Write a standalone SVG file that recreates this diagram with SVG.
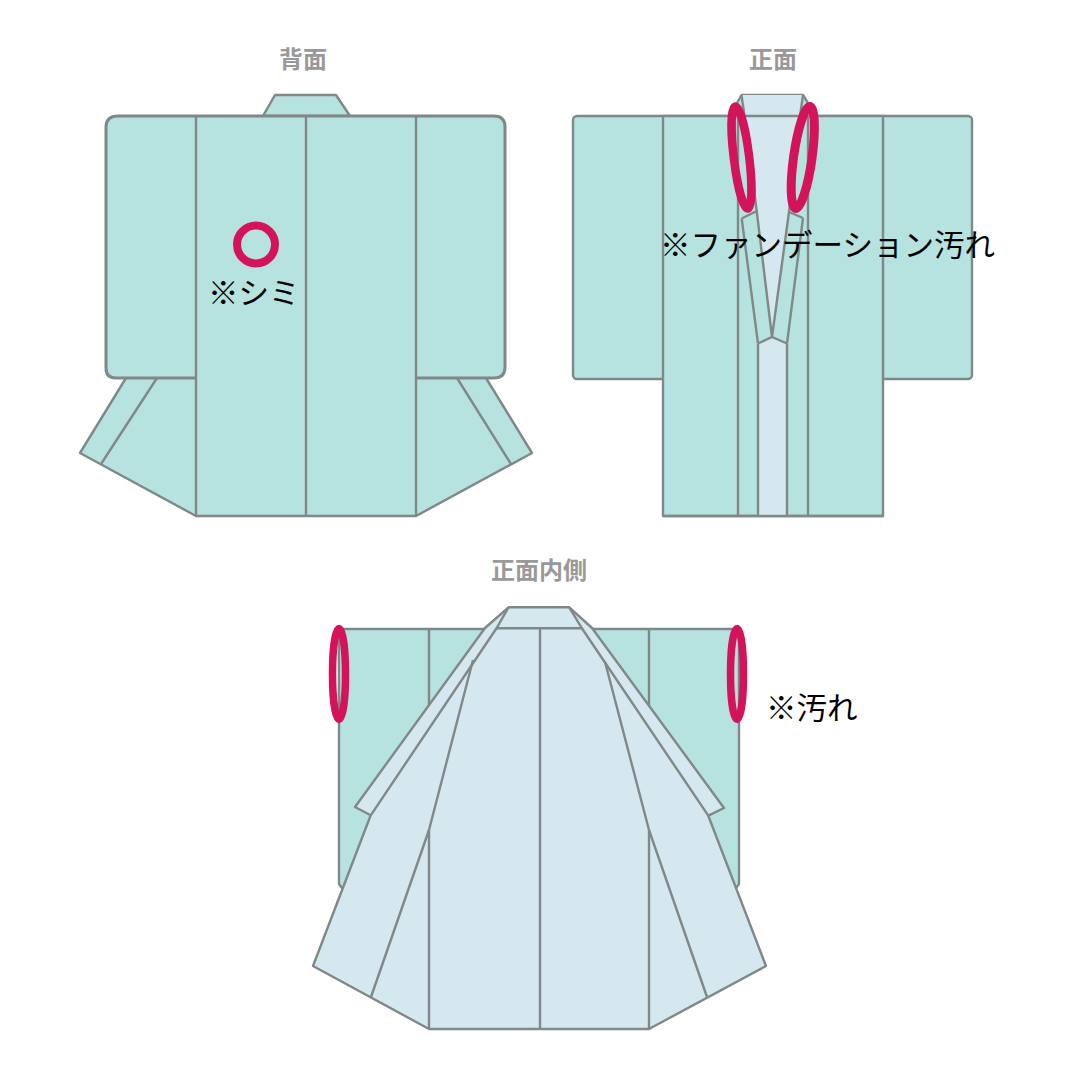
<svg xmlns="http://www.w3.org/2000/svg" width="1080" height="1080" viewBox="0 0 1080 1080">
<style>
.g{fill:#b6e2e0;stroke:#808888;stroke-width:2.400;stroke-linejoin:round}
.b{fill:#d6e8ef;stroke:#808888;stroke-width:2.400;stroke-linejoin:round}
.f{fill:#b6e2e0;stroke:none}
.fb{fill:#d6e8ef;stroke:none}
.l{fill:none;stroke:#808888;stroke-width:2.400;stroke-linejoin:round}
.h{fill:none;stroke:#808888;stroke-width:3;stroke-linejoin:round}
.m{fill:none;stroke:#d4145a;stroke-width:7.500}
.t{font-family:"Noto Sans CJK JP",sans-serif;font-size:24px;font-weight:700;fill:#999;text-anchor:middle}
.n{font-family:"Noto Sans CJK JP",sans-serif;font-size:30.500px;fill:#000}
</style>
<rect width="1080" height="1080" fill="#fff"/>
<text class="t" x="303" y="68">背面</text>
<text class="t" x="773" y="68">正面</text>
<text class="t" x="539" y="579">正面内側</text>

<g id="back">
<!-- collar and skirt gussets sit behind the sleeve block -->
<path class="g" d="M263 116L275 95H336L350 116Z"/>
<path class="f" d="M126 370H486V378L532 453L416 516H196L80 453L126 378Z"/>
<path class="l" d="M126 378L80 453L196 516H416L532 453L486 378"/>
<path class="l" d="M157 378L101 464M457 378L511 464"/>
<path class="f" d="M118 116H494Q505 116 505 127V367Q505 378 494 378H116Q106 378 106 368V127Q106 116 118 116Z"/>
<path class="h" d="M196 378H116Q106 378 106 368V127Q106 116 118 116H494Q505 116 505 127V367Q505 378 494 378H416"/>
<path class="l" d="M196 116V516M306 116V516M416 116V516"/>
<circle class="m" cx="256" cy="244.500" r="19" style="stroke-width:8"/>
<text class="n" x="208" y="304">※シミ</text>
</g>

<g id="front">
<rect class="g" x="573" y="116" width="399" height="263" rx="4"/>
<rect class="g" x="663" y="116" width="220" height="400"/>
<!-- collar and the opening down the front -->
<path class="f" d="M737 116V103L741.500 95H803L808 103V116Z"/>
<path class="l" d="M737 112V103L741.500 95H803L808 103V112"/>
<path class="fb" d="M741.500 95H803L800 116L772 337L744.500 116Z"/>
<path class="l" d="M741.500 95L744.500 116M803 95L800 116M744.500 116H800"/>
<path class="fb" d="M758 344L772 337L787 344V516H758Z"/>
<path class="l" d="M738 116V516M808 116V516M758 344V516M787 344V516M758 343.500L772 337L787 343.500M663 516H883"/>
<path class="l" d="M744.500 116L756.700 211L772 337L789 212L800 116"/>
<path class="l" d="M741.700 218.500L756.700 211M741.700 218.500L758 343.500M803 218L789 212M803 218L787 343.500"/>
<ellipse class="m" cx="741.500" cy="157.500" rx="7.700" ry="51.500" transform="rotate(-7 741.500 157.500)" style="stroke-width:8.500"/>
<ellipse class="m" cx="802.800" cy="157.500" rx="9.200" ry="51.500" transform="rotate(8 802.800 157.500)" style="stroke-width:9"/>
<text class="n" x="660" y="256">※ファンデーション汚れ</text>
</g>

<g id="inside">
<path class="g" d="M339 629H739V884L736 888H342L339 884Z"/>
<path class="l" d="M429 629V710M649 629V710"/>
<path class="b" d="M508.500 607.300H569.300L592 628L724 808L708.300 815.700L766 966L649 1029H429L313 966L370.700 815.300L355 807L485 628Z"/>
<path class="l" d="M508.500 607.300L496.700 628L370.700 815.300M569.300 607.300L581.700 628L708.300 815.700"/>
<path class="l" d="M496.700 628.300H581.700M540 629V1029M429 830V1029M649 830V1029"/>
<path class="l" d="M473 660L429 830L371 997M605 661.700L649 830L707 997"/>
<ellipse class="m" cx="339" cy="674" rx="6.500" ry="45.500"/>
<ellipse class="m" cx="737" cy="674" rx="6.500" ry="45.500"/>
<text class="n" x="766" y="719">※汚れ</text>
</g>
</svg>
